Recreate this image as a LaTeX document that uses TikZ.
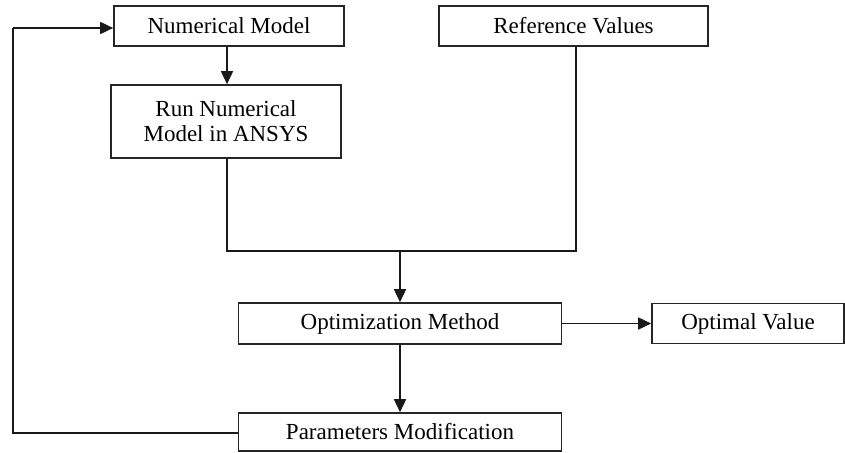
\documentclass[tikz,border=0pt]{standalone}
\usepackage{fontspec}
\setmainfont{Liberation Serif}
\usetikzlibrary{arrows.meta}
\begin{document}
\begin{tikzpicture}[x=1pt,y=-1pt,
  box/.style={draw=black!85,line width=1.6pt,rectangle,inner sep=0pt,align=center,font=\fontsize{23}{25}\selectfont},
  conn/.style={draw=black!90,line width=1.6pt},
  arr/.style={conn,-{Triangle[length=13pt,width=12pt]}}]
\useasboundingbox (0,0) rectangle (845,452);
\node[box,minimum width=230pt,minimum height=40pt] (nm) at (229,26) {\raisebox{-2pt}{Numerical Model}};
\node[box,minimum width=269pt,minimum height=40pt] (ref) at (573.5,26) {\raisebox{-2pt}{Reference Values}};
\node[box,minimum width=230pt,minimum height=73pt] (run) at (226,121.5) {Run Numerical\\Model in ANSYS};
\node[box,minimum width=323pt,minimum height=41pt] (opt) at (400,323.5) {\raisebox{-2pt}{Optimization Method}};
\node[box,minimum width=192pt,minimum height=40pt] (ov) at (748,323.5) {\raisebox{-2pt}{Optimal Value}};
\node[box,minimum width=323pt,minimum height=38pt] (pm) at (400,432) {\raisebox{-2pt}{Parameters Modification}};
\coordinate (j) at (400,251);
\coordinate (lb) at (13,433);
\coordinate (lt) at (13,28);
\draw[arr] (nm.south -| 227,0) -- (run.north -| 227,0);
\draw[conn] (run.south -| 227,0) |- (j);
\draw[conn] (ref.south -| 576,0) |- (j);
\draw[arr] (j) -- (opt.north);
\draw[arr] (opt.east) -- (ov.west);
\draw[arr] (opt.south) -- (pm.north);
\draw[conn] (pm.west |- lb) -- (lb) -- (lt);
\draw[arr] (lt) -- (nm.west |- lt);
\end{tikzpicture}
\end{document}
